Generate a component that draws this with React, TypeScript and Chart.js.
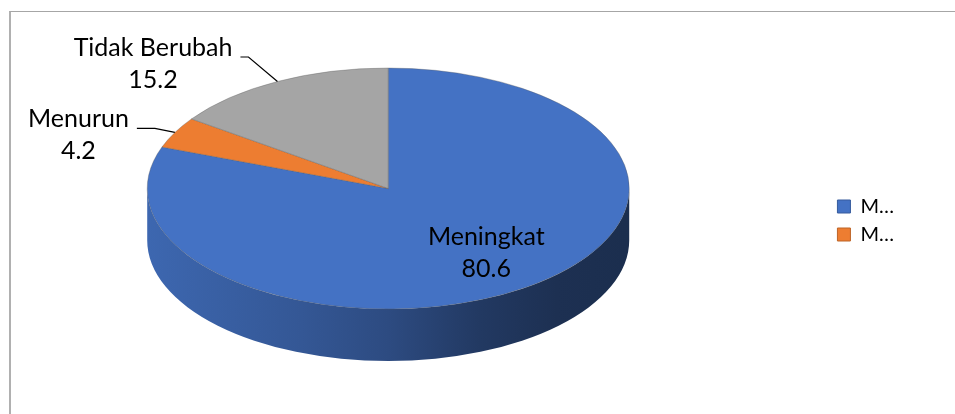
import React, { useEffect, useRef } from 'react';
import { Chart, registerables } from 'chart.js';

Chart.register(...registerables);

// ---- data ----
const categories = ['Meningkat', 'Menurun', 'Tidak Berubah'];
const values = [80.6, 4.2, 15.2];
const sliceColors = ['#4472C4', '#ED7D31', '#A5A5A5'];
const legendVisibleCount = 2;

// ---- label styling (placement rules, not data) ----
const labelModes = ['inside', 'outside', 'outside'];
const elbowOffsets: number[][] = [[0, 0], [-20, -4], [-29, -24.5]];
const tailLengths = [0, 18, 8];

// wall gradient: [position, brightness factor]
const wallStops: number[][] = [
  [0, 0.9],
  [0.32, 0.76],
  [0.5, 0.66],
  [0.69, 0.5],
  [0.85, 0.42],
  [1, 0.4],
];

function hexToRgb(hex: string) {
  const h = hex.replace('#', '');
  return [0, 2, 4].map((i) => parseInt(h.slice(i, i + 2), 16));
}
function shade(hex: string, f: number) {
  const [r, g, b] = hexToRgb(hex);
  return `rgb(${Math.round(r * f)},${Math.round(g * f)},${Math.round(b * f)})`;
}

function geometry(chart: any, opts: any) {
  const meta = chart.getDatasetMeta(0);
  const first = meta.data[0];
  if (!first) return null;
  const { x, y, outerRadius: r } = first.getProps(['x', 'y', 'outerRadius'], true);
  return {
    meta,
    ax: x,
    ay: y,
    cx: x + opts.shiftX,
    rx: r * opts.aspect,
    ry: r,
    top: y - opts.depth / 2 - opts.lift,
  };
}

const pie3d = {
  id: 'pie3d',
  beforeDatasetsDraw(chart: any, _args: any, opts: any) {
    const g0 = geometry(chart, opts);
    if (!g0) return;
    const { meta, ax, ay, cx, rx, ry, top } = g0;
    const depth = opts.depth;
    const ctx: CanvasRenderingContext2D = chart.ctx;
    ctx.save();
    meta.data.forEach((el: any, i: number) => {
      const { startAngle, endAngle } = el.getProps(['startAngle', 'endAngle'], true);
      for (let k = -1; k <= 1; k++) {
        const off = k * 2 * Math.PI;
        const a1 = Math.max(startAngle + off, 0);
        const a2 = Math.min(endAngle + off, Math.PI);
        if (a2 > a1) {
          ctx.beginPath();
          ctx.ellipse(cx, top, rx, ry, 0, a1, a2, false);
          ctx.ellipse(cx, top + depth, rx, ry, 0, a2, a1, true);
          ctx.closePath();
          const g = ctx.createLinearGradient(cx - rx, 0, cx + rx, 0);
          wallStops.forEach(([p, f]) => g.addColorStop(p, shade(sliceColors[i], f)));
          ctx.fillStyle = g;
          ctx.fill();
        }
      }
    });
    ctx.restore();
    ctx.save();
    ctx.translate(cx, top);
    ctx.scale(opts.aspect, 1);
    ctx.translate(-ax, -ay);
  },
  afterDatasetsDraw(chart: any, _args: any, opts: any) {
    const ctx: CanvasRenderingContext2D = chart.ctx;
    ctx.restore();
    const g0 = geometry(chart, opts);
    if (!g0) return;
    const { meta, cx, rx, ry, top } = g0;
    ctx.save();
    ctx.font = `${opts.fontSize}px Lato, "Open Sans", sans-serif`;
    ctx.fillStyle = '#000';
    ctx.strokeStyle = '#000';
    ctx.lineWidth = 1.2;
    ctx.textAlign = 'center';
    ctx.textBaseline = 'alphabetic';
    meta.data.forEach((el: any, i: number) => {
      const { startAngle, endAngle } = el.getProps(['startAngle', 'endAngle'], true);
      const mid = (startAngle + endAngle) / 2;
      const c = Math.cos(mid);
      const s = Math.sin(mid);
      const lines = [categories[i], values[i].toFixed(1)];
      let tx: number;
      let b1: number;
      if (labelModes[i] === 'inside') {
        tx = cx + opts.insideFx * rx * c;
        const ly = top + opts.insideFy * ry * s;
        b1 = ly - 4;
      } else {
        const ex = cx + rx * c;
        const ey = top + ry * s;
        const px = ex + elbowOffsets[i][0];
        const py = ey + elbowOffsets[i][1];
        const lx = px - tailLengths[i];
        ctx.beginPath();
        ctx.moveTo(ex, ey);
        ctx.lineTo(px, py);
        ctx.lineTo(lx, py);
        ctx.stroke();
        const w = Math.max(...lines.map((t) => ctx.measureText(t).width));
        tx = lx - 8 - w / 2;
        b1 = py - 1;
      }
      lines.forEach((t, li) => ctx.fillText(t, tx, b1 + li * opts.lineHeight));
    });
    ctx.restore();
  },
};

export default function App() {
  const ref = useRef<HTMLCanvasElement | null>(null);
  useEffect(() => {
    if (!ref.current) return;
    const chart = new Chart(ref.current, {
      type: 'pie',
      data: {
        labels: categories,
        datasets: [
          {
            data: values,
            backgroundColor: sliceColors,
            borderColor: 'rgba(90,90,90,0.45)',
            borderWidth: 0.5,
            clip: false as any,
          },
        ],
      },
      options: {
        responsive: false,
        animation: false,
        radius: 120.5,
        layout: { padding: { left: 0, right: 51, top: 15, bottom: 0 } },
        events: [],
        plugins: {
          tooltip: { enabled: false },
          legend: {
            position: 'right',
            labels: {
              boxWidth: 13,
              boxHeight: 13,
              padding: 8,
              color: '#000',
              font: { family: 'Lato, "Open Sans", sans-serif', size: 20 },
              generateLabels: (ch: any) => {
                const ds = ch.data.datasets[0];
                return ch.data.labels.slice(0, legendVisibleCount).map((l: string, i: number) => ({
                  text: l.charAt(0) + '\u2026',
                  fillStyle: ds.backgroundColor[i],
                  strokeStyle: shade(ds.backgroundColor[i], 0.8),
                  lineWidth: 1,
                  hidden: false,
                  index: i,
                  fontColor: '#000',
                }));
              },
            },
          },
          pie3d: {
            aspect: 2,
            depth: 52,
            lift: 6,
            shiftX: -32,
            fontSize: 25,
            lineHeight: 32,
            insideFx: 0.711,
            insideFy: 0.617,
          },
        } as any,
      },
      plugins: [pie3d],
    });
    return () => chart.destroy();
  }, []);
  return (
    <div
      style={{
        position: 'absolute',
        left: 9,
        top: 11,
        width: 946,
        height: 403,
        borderTop: '1px solid #a6a6a6',
        borderLeft: '2px solid #b0b0b0',
        boxSizing: 'border-box',
        overflow: 'hidden',
      }}
    >
      <canvas ref={ref} width={944} height={402} style={{ display: 'block' }} />
    </div>
  );
}
